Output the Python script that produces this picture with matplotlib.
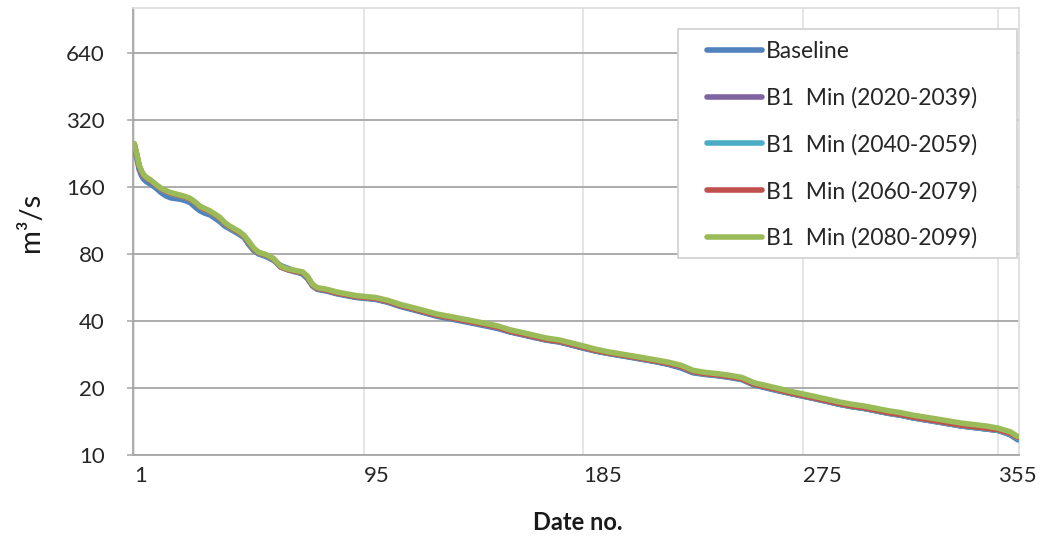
import matplotlib
matplotlib.use("Agg")
import matplotlib.pyplot as plt
from matplotlib.patches import Rectangle
from matplotlib.ticker import FixedLocator, FixedFormatter, NullLocator

plt.rcParams["font.family"] = ["Lato", "DejaVu Sans"]

# Flow duration (sorted daily flows) by day number
days = [1, 2, 3, 4, 5, 6, 8, 10, 12, 14, 16, 18, 20, 22, 24, 26, 28, 30, 32, 34,
        36, 38, 40, 42, 44, 46, 48, 50, 52, 55, 58, 61, 64, 67, 70, 72, 74, 76, 78, 80,
        84, 88, 92, 96, 100, 105, 110, 115, 120, 125, 130, 135, 140, 145, 150, 155, 160,
        165, 170, 175, 180, 185, 190, 195, 200, 205, 210, 215, 220, 225, 230, 235, 240,
        245, 250, 255, 260, 265, 270, 275, 280, 285, 290, 295, 300, 305, 310, 315, 320,
        325, 330, 335, 340, 345, 350, 355, 360, 363]

baseline = [245, 218, 192, 180, 173, 169, 164, 158, 151, 146, 143, 142, 141, 139, 136,
            130, 125, 122, 120, 116, 112, 107, 104, 101, 98, 95, 88, 83, 80, 78, 75, 71,
            69, 67, 65, 62, 57.5, 55.5, 55, 54.5, 53, 52, 51, 50.5, 50, 48.5, 46.5, 45,
            43.5, 42, 41, 40, 39, 38, 37, 35.7, 34.7, 33.7, 32.8, 32.2, 31.2, 30.2, 29.3,
            28.6, 28, 27.4, 26.8, 26.2, 25.5, 24.6, 23.4, 23.0, 22.7, 22.3, 21.8, 20.6,
            20.0, 19.4, 18.9, 18.4, 17.9, 17.4, 16.9, 16.5, 16.2, 15.8, 15.4, 15.1, 14.7,
            14.4, 14.1, 13.8, 13.5, 13.3, 13.1, 12.9, 12.3, 11.7]

b1_2020 = [248, 223, 198, 186, 178, 175, 169, 162, 156, 152, 149, 147, 145, 143, 140,
           135, 129, 126, 123, 119, 115, 109, 105, 102, 99, 95, 89, 83, 80.5, 78.5, 75.5,
           70, 68, 66.5, 65.5, 62.5, 58, 56, 55.3, 54.8, 53.3, 52.3, 51.3, 50.8, 50.3, 48.8,
           46.8, 45.3, 43.8, 42.3, 41.3, 40.3, 39.3, 38.3, 37.3, 35.8, 34.8, 33.8, 32.9,
           32.3, 31.3, 30.3, 29.4, 28.7, 28.1, 27.5, 26.9, 26.3, 25.6, 24.8, 23.6, 23.1,
           22.8, 22.4, 21.9, 20.7, 20.1, 19.5, 18.9, 18.4, 17.9, 17.4, 16.9, 16.5, 16.2,
           15.8, 15.4, 15.1, 14.7, 14.4, 14.1, 13.8, 13.5, 13.3, 13.1, 12.9, 12.4, 11.9]

b1_2040 = [249, 224, 199, 187, 179, 175, 170, 162, 156, 152, 149, 147, 145, 143, 140,
           135, 129, 126, 123, 119, 115, 109, 105, 102, 99, 95, 89, 83, 80.5, 78.5, 75.5,
           70, 68, 66.8, 65.8, 62.8, 58, 56, 55.4, 54.9, 53.4, 52.4, 51.4, 50.9, 50.4, 48.9,
           46.9, 45.4, 43.9, 42.4, 41.4, 40.4, 39.4, 38.4, 37.4, 35.9, 34.9, 33.9, 32.9,
           32.4, 31.4, 30.4, 29.4, 28.7, 28.1, 27.5, 26.9, 26.3, 25.7, 24.9, 23.6, 23.1,
           22.8, 22.4, 21.9, 20.7, 20.1, 19.5, 18.9, 18.4, 17.9, 17.4, 16.9, 16.5, 16.2,
           15.8, 15.4, 15.1, 14.7, 14.4, 14.1, 13.8, 13.5, 13.3, 13.1, 12.9, 12.4, 11.9]

b1_2060 = [250, 224, 199, 187, 179, 176, 170, 163, 157, 153, 150, 148, 146, 144, 141,
           136, 130, 127, 124, 120, 116, 110, 106, 103, 100, 96, 90, 84, 81, 79, 76, 70,
           68, 67, 66, 63, 58, 56, 55.5, 55, 53.5, 52.5, 51.5, 51, 50.5, 49, 47, 45.5, 44,
           42.5, 41.5, 40.5, 39.5, 38.5, 37.5, 36, 35, 34, 33, 32.5, 31.5, 30.5, 29.5,
           28.8, 28.2, 27.6, 27, 26.4, 25.8, 25, 23.7, 23.2, 22.9, 22.5, 22, 20.8, 20.2,
           19.6, 19, 18.5, 18, 17.5, 17, 16.6, 16.3, 15.9, 15.5, 15.2, 14.8, 14.5, 14.2,
           13.9, 13.6, 13.4, 13.2, 13.0, 12.5, 12.0]

b1_2080 = [251, 226, 201, 189, 181, 177, 171, 164, 158, 154, 151, 149, 147, 145, 142,
           137, 131, 128, 125, 121, 117, 111, 107, 104, 101, 97, 91, 85, 81.5, 79.5, 76.5,
           70.5, 68.5, 67.5, 66.5, 63.5, 58.5, 56.5, 56, 55.5, 54, 53, 52, 51.5, 51, 49.5,
           47.5, 46, 44.5, 43, 42, 41, 40, 39, 38, 36.5, 35.5, 34.5, 33.5, 32.9, 31.9,
           30.9, 29.9, 29.1, 28.5, 27.9, 27.3, 26.7, 26.1, 25.3, 24.0, 23.5, 23.2, 22.8,
           22.3, 21.1, 20.5, 19.9, 19.3, 18.8, 18.3, 17.8, 17.3, 16.9, 16.6, 16.2, 15.8,
           15.5, 15.1, 14.8, 14.5, 14.2, 13.9, 13.7, 13.5, 13.2, 12.7, 12.1]

series_labels = ["Baseline", "B1  Min (2020-2039)", "B1  Min (2040-2059)",
                 "B1  Min (2060-2079)", "B1  Min (2080-2099)"]
series_colors = ["#4F81BD", "#8064A2", "#4BACC6", "#C0504D", "#9BBB59"]

y_ticks = [10, 20, 40, 80, 160, 320, 640]
x_ticks = [1, 95, 185, 275, 355]

W, H = 1041, 540
fig = plt.figure(figsize=(W / 100, H / 100), dpi=100)
ax_l, ax_r, ax_b, ax_t = 133, 1019, 455, 7.6
ax = fig.add_axes([ax_l / W, 1 - ax_b / H, (ax_r - ax_l) / W, (ax_b - ax_t) / H])

all_series = [baseline, b1_2020, b1_2040, b1_2060, b1_2080]
for vals, lab, col in zip(all_series, series_labels, series_colors):
    ax.plot(days, vals, color=col, lw=4.0, label=lab, solid_capstyle="round",
            solid_joinstyle="round", zorder=3)

ax.set_yscale("log", base=2)
ax.set_ylim(10, 1024)
ax.set_xlim(0.5, 363.5)

ax.yaxis.set_major_locator(FixedLocator(y_ticks))
ax.yaxis.set_major_formatter(FixedFormatter([str(v) for v in y_ticks]))
ax.yaxis.set_minor_locator(NullLocator())
ax.xaxis.set_major_locator(FixedLocator(x_ticks))
ax.xaxis.set_major_formatter(FixedFormatter([str(v) for v in x_ticks]))
ax.xaxis.set_minor_locator(NullLocator())

ax.tick_params(axis="y", length=4.3, width=1.1, color="#a6a6a6", pad=16,
               labelsize=16, labelcolor="#262626")
ax.tick_params(axis="x", length=0, pad=8, labelsize=16, labelcolor="#262626")
for t in ax.get_xticklabels():
    t.set_horizontalalignment("left")

ax.grid(axis="y", color="#a6a6a6", lw=1.3, zorder=1)
ax.grid(axis="x", color="#e3e3e3", lw=1.3, zorder=1)
ax.set_axisbelow(True)

for side in ("left", "bottom"):
    ax.spines[side].set_color("#a6a6a6")
    ax.spines[side].set_linewidth(1.3)
for side in ("top", "right"):
    ax.spines[side].set_color("#dcdcdc")
    ax.spines[side].set_linewidth(1.2)

fig.text(578 / W, 1 - 523 / H, "Date no.", ha="center", va="center",
         fontsize=17, fontweight="bold", color="#1a1a1a")
fig.text(31 / W, 1 - 222 / H, "m³/s", ha="center", va="center",
         rotation=90, fontsize=21, color="#1a1a1a")

# Legend box
lx0, lx1, ly0, ly1 = 678, 1017, 29, 258
ax.add_patch(Rectangle(((lx0 - ax_l) / (ax_r - ax_l), (ax_b - ly1) / (ax_b - ax_t)),
                       (lx1 - lx0) / (ax_r - ax_l), (ly1 - ly0) / (ax_b - ax_t),
                       transform=ax.transAxes, facecolor="white", edgecolor="#d0d0d0",
                       lw=1.2, zorder=5))
leg = ax.legend(loc="upper left",
                bbox_to_anchor=((707 - ax_l) / (ax_r - ax_l), (ax_b - 41) / (ax_b - ax_t)),
                frameon=False, fontsize=16.5, handlelength=2.4, handletextpad=0.17,
                labelspacing=1.1, borderpad=0, borderaxespad=0)
leg.set_zorder(6)
for t in leg.get_texts():
    t.set_color("#262626")

fig.savefig("out.png", dpi=100, facecolor="white")
